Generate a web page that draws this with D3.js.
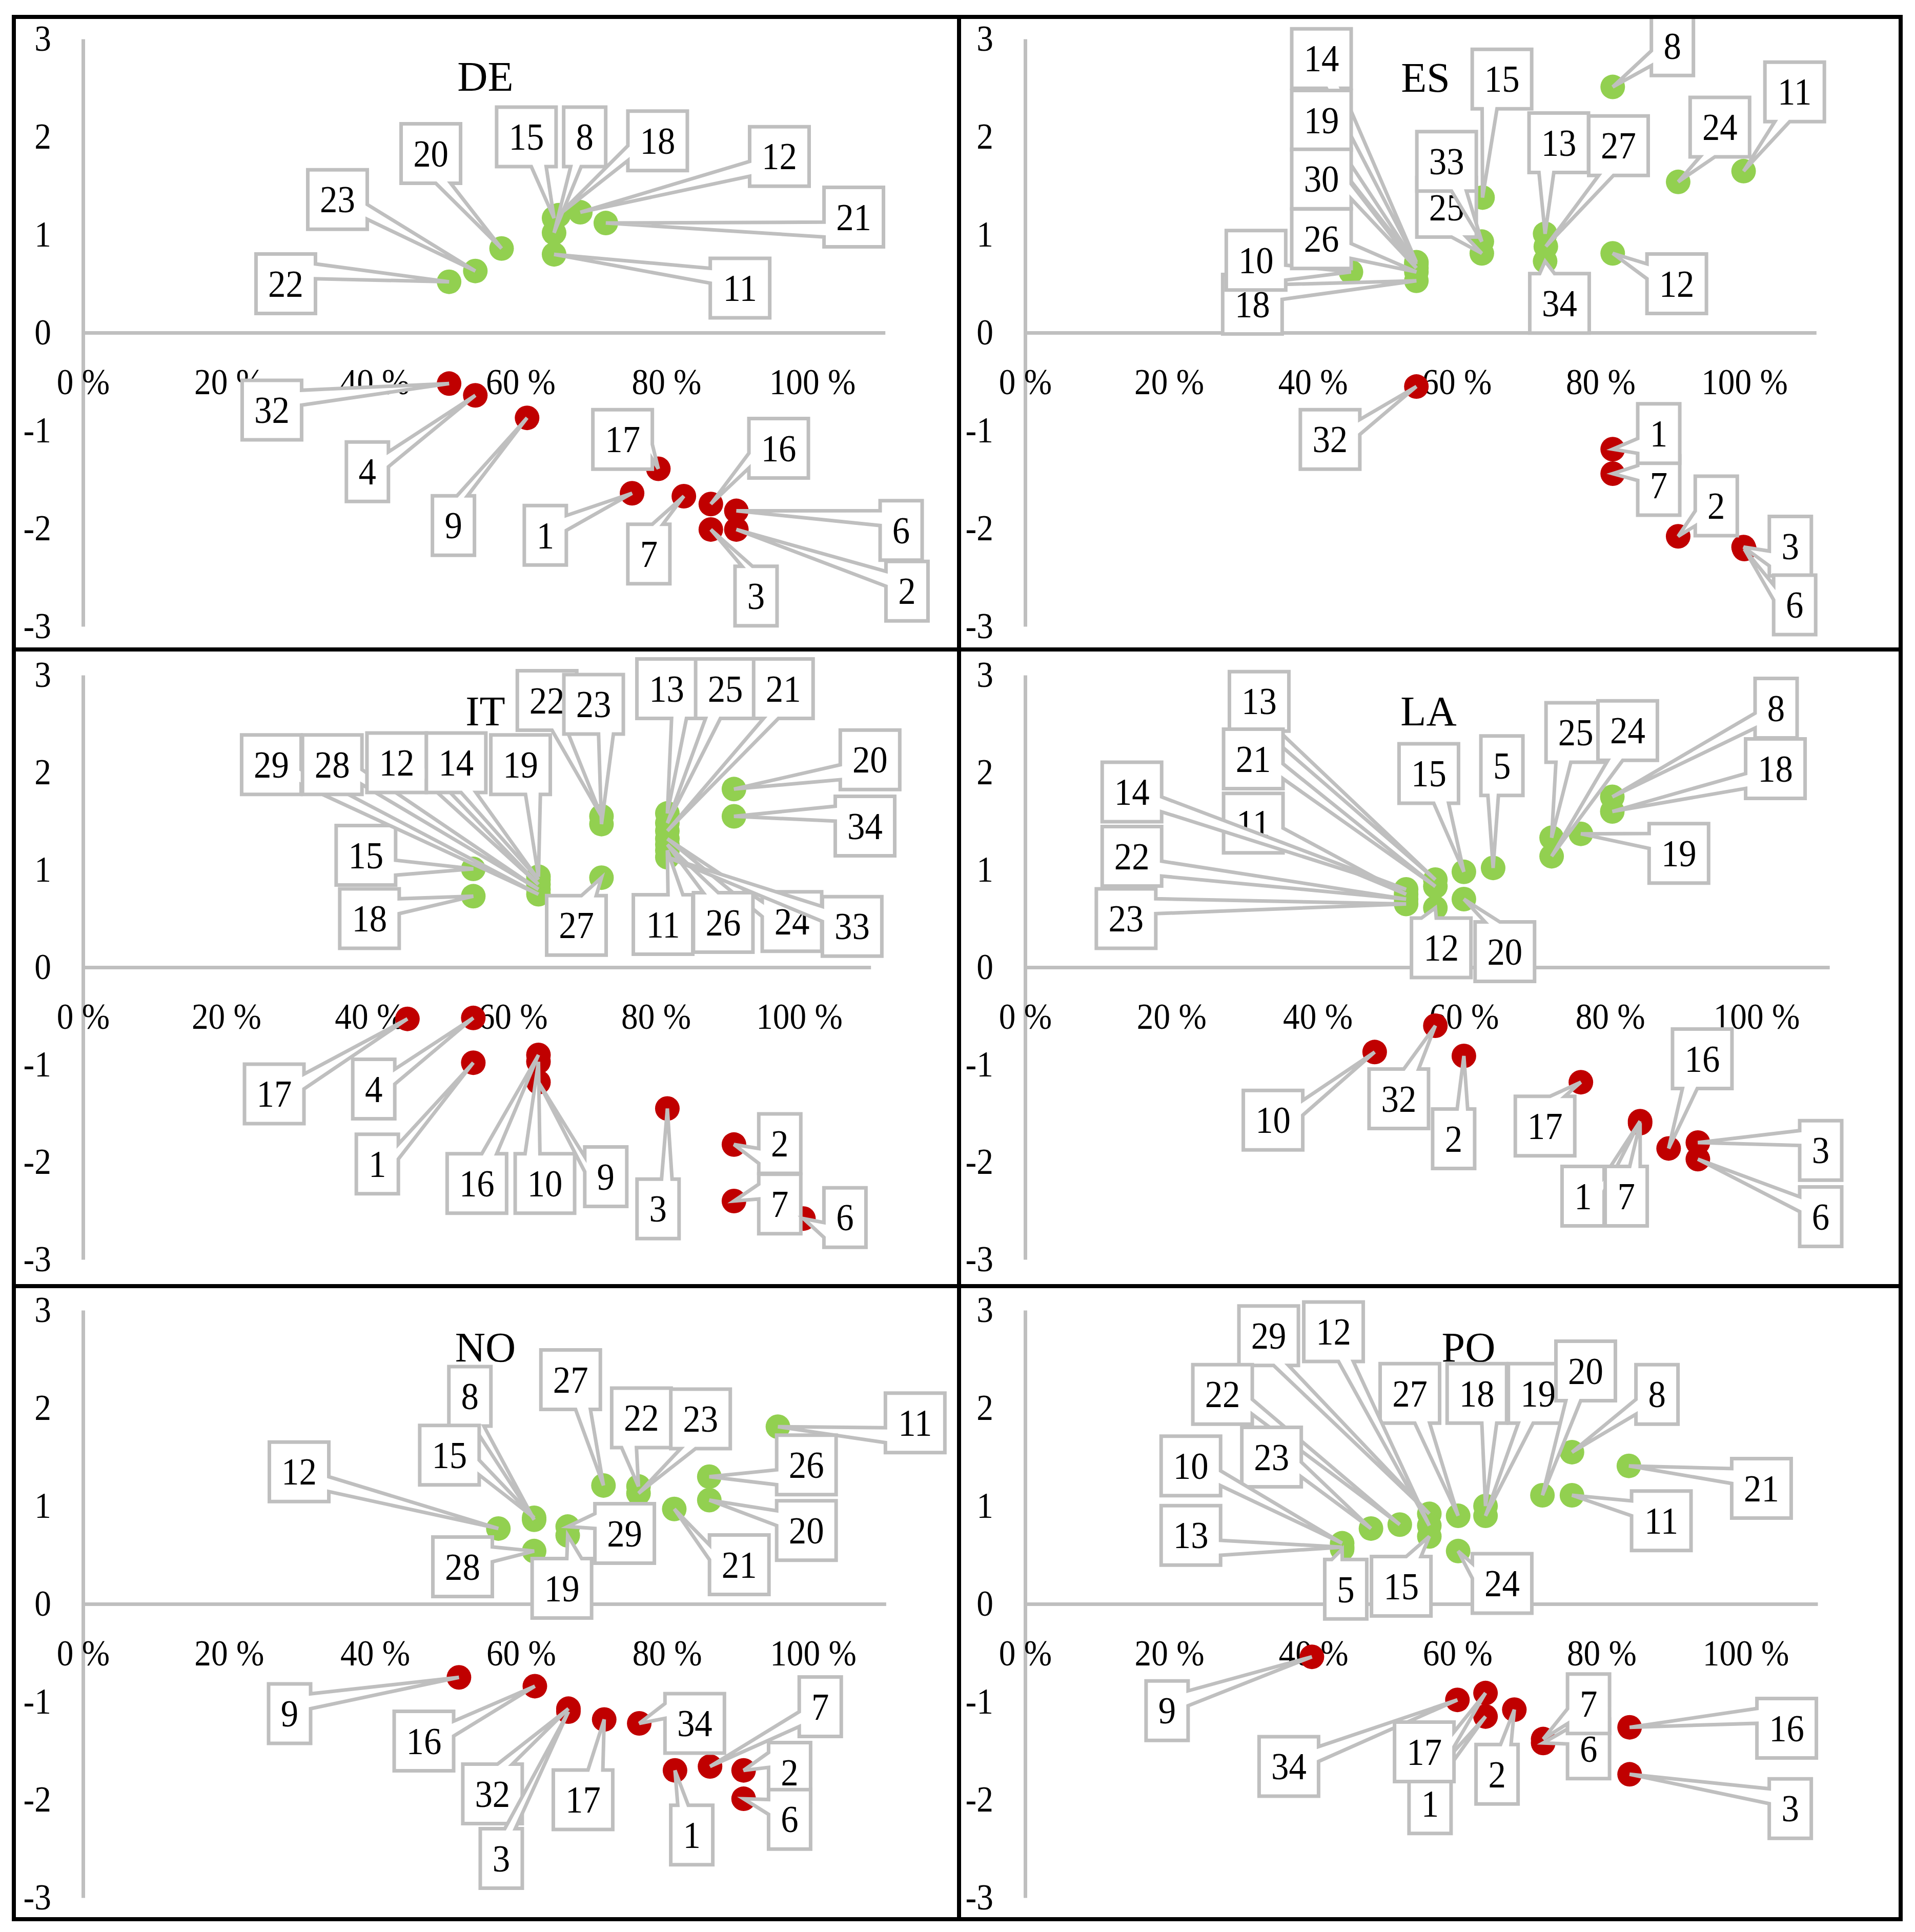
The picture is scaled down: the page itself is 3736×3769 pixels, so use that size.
<!DOCTYPE html>
<html><head><meta charset="utf-8">
<script src="https://cdn.jsdelivr.net/npm/d3@7"></script>
<style>html,body{margin:0;padding:0;background:#fff;} svg{display:block;}</style>
</head><body>
<script>
const panelNames = ["DE","ES","IT","LA","NO","PO"];
const xTickValues = [0,20,40,60,80,100];
const yTickValues = [-3,-2,-1,0,1,2,3];

// DE
const deId     = [22, 23, 20, 15, 8, 18, 12, 21, 11, 32, 4, 9, 17, 1, 7, 16, 6, 3, 2];
const dePct    = [50.2, 53.8, 57.4, 64.6, 64.6, 65.2, 68.2, 71.7, 64.6, 50.2, 53.8, 60.9, 78.9, 75.3, 82.4, 86.1, 89.6, 86.1, 89.6];
const deScore  = [0.52, 0.63, 0.86, 1.17, 1.02, 1.20, 1.23, 1.12, 0.80, -0.52, -0.64, -0.87, -1.39, -1.64, -1.67, -1.75, -1.82, -2.01, -2.01];
const deLabPct = [27.8, 34.9, 47.7, 60.8, 68.8, 78.8, 95.5, 105.7, 90.1, 25.9, 39.0, 50.8, 74.0, 63.4, 77.6, 95.4, 112.2, 92.3, 113.0];
const deLabScore = [0.50, 1.36, 1.83, 2.0, 2.0, 1.96, 1.80, 1.18, 0.455, -0.79, -1.42, -1.97, -1.09, -2.07, -2.26, -1.18, -2.02, -2.69, -2.64];

// ES
const esId     = [8, 11, 24, 25, 33, 15, 13, 27, 34, 12, 18, 10, 14, 19, 30, 26, 32, 7, 1, 2, 3, 6];
const esPct    = [81.7, 99.9, 90.8, 63.5, 63.5, 63.6, 72.3, 72.4, 72.3, 81.7, 54.4, 45.3, 54.4, 54.4, 54.4, 54.4, 54.4, 81.7, 81.7, 90.8, 99.9, 100.0];
const esScore  = [2.51, 1.65, 1.54, 0.81, 0.93, 1.38, 1.01, 0.88, 0.73, 0.81, 0.53, 0.62, 0.72, 0.70, 0.66, 0.62, -0.55, -1.44, -1.19, -2.08, -2.19, -2.21];
const esLabPct = [90.0, 107.0, 96.6, 58.6, 58.6, 66.3, 74.2, 82.5, 74.3, 90.6, 31.6, 32.1, 41.2, 41.2, 41.2, 41.2, 42.4, 88.1, 88.1, 96.1, 106.4, 107.0];
const esLabScore = [2.93, 2.46, 2.10, 1.28, 1.75, 2.59, 1.94, 1.91, 0.30, 0.50, 0.29, 0.74, 2.80, 2.17, 1.57, 0.96, -1.09, -1.56, -1.03, -1.77, -2.18, -2.78];

// IT
const itId     = [20, 34, 22, 23, 13, 25, 21, 24, 26, 11, 33, 27, 15, 18, 29, 28, 12, 14, 19, 17, 4, 1, 16, 10, 9, 3, 2, 7, 6];
const itPct    = [90.9, 90.9, 72.4, 72.4, 81.6, 81.6, 81.6, 81.6, 81.6, 81.6, 81.6, 72.4, 54.5, 54.5, 63.6, 63.6, 63.6, 63.6, 63.6, 45.3, 54.5, 54.5, 63.6, 63.6, 63.6, 81.6, 90.9, 90.9, 100.6];
const itScore  = [1.83, 1.55, 1.55, 1.47, 1.58, 1.48, 1.40, 1.32, 1.26, 1.20, 1.13, 0.92, 1.01, 0.73, 0.75, 0.80, 0.85, 0.90, 0.93, -0.53, -0.52, -0.98, -0.90, -0.97, -1.18, -1.45, -1.82, -2.40, -2.58];
const itLabPct = [109.9, 109.2, 64.8, 71.3, 81.5, 89.7, 97.8, 99.0, 89.4, 81.0, 107.4, 68.9, 39.5, 40.0, 26.3, 34.8, 43.8, 52.1, 61.1, 26.7, 40.6, 41.1, 55.0, 64.5, 73.0, 80.3, 97.3, 97.3, 106.4];
const itLabScore = [2.13, 1.45, 2.74, 2.70, 2.86, 2.86, 2.86, 0.47, 0.46, 0.44, 0.42, 0.43, 1.15, 0.50, 2.08, 2.08, 2.10, 2.10, 2.08, -1.30, -1.25, -2.02, -2.22, -2.22, -2.15, -2.48, -1.81, -2.43, -2.57];

// LA
const laId     = [8, 18, 19, 25, 24, 5, 15, 20, 12, 13, 21, 11, 14, 22, 23, 32, 10, 2, 17, 1, 7, 16, 3, 6];
const laPct    = [80.3, 80.3, 76.0, 72.0, 72.0, 64.0, 60.0, 60.0, 56.1, 56.1, 56.1, 52.1, 52.1, 52.1, 52.1, 56.1, 47.8, 60.0, 76.0, 84.1, 84.1, 88.0, 92.0, 92.0];
const laScore  = [1.75, 1.60, 1.37, 1.33, 1.14, 1.02, 0.98, 0.70, 0.61, 0.90, 0.83, 0.75, 0.80, 0.70, 0.65, -0.60, -0.87, -0.91, -1.18, -1.58, -1.60, -1.86, -1.80, -1.97];
const laLabPct = [102.7, 102.6, 89.4, 75.3, 82.4, 65.2, 55.2, 65.6, 56.9, 32.0, 31.2, 31.2, 14.6, 14.6, 13.8, 51.1, 33.9, 58.6, 71.1, 76.3, 82.2, 92.6, 108.8, 108.8];
const laLabScore = [2.66, 2.04, 1.17, 2.41, 2.43, 2.07, 1.99, 0.16, 0.20, 2.73, 2.14, 1.48, 1.80, 1.14, 0.50, -1.35, -1.57, -1.76, -1.63, -2.35, -2.35, -0.94, -1.88, -2.56];

// NO
const noId     = [11, 26, 20, 21, 22, 23, 27, 29, 19, 8, 15, 28, 12, 9, 16, 32, 3, 17, 34, 7, 1, 2, 6];
const noPct    = [95.2, 85.8, 85.8, 81.0, 76.1, 76.1, 71.3, 66.4, 66.4, 61.8, 61.8, 61.8, 56.9, 51.5, 61.9, 66.5, 66.5, 71.4, 76.2, 85.9, 81.1, 90.5, 90.5];
const noScore  = [1.81, 1.30, 1.06, 0.97, 1.20, 1.13, 1.21, 0.79, 0.70, 0.86, 0.88, 0.54, 0.77, -0.75, -0.84, -1.07, -1.10, -1.18, -1.22, -1.66, -1.70, -1.70, -1.99];
const noLabPct = [114.0, 99.1, 99.1, 89.9, 76.5, 84.6, 66.8, 74.2, 65.6, 53.0, 50.2, 52.0, 29.6, 28.3, 46.7, 56.1, 57.3, 68.5, 83.8, 101.0, 83.4, 96.8, 96.8];
const noLabScore = [1.85, 1.42, 0.75, 0.40, 1.90, 1.89, 2.29, 0.72, 0.16, 2.12, 1.52, 0.38, 1.35, -1.12, -1.40, -1.94, -2.60, -2.00, -1.22, -1.05, -2.36, -1.72, -2.20];

// PO
const poId     = [8, 21, 19, 20, 11, 18, 27, 24, 29, 12, 15, 22, 23, 10, 13, 5, 9, 34, 1, 17, 2, 6, 7, 16, 3];
const poPct    = [75.9, 83.8, 63.9, 71.8, 75.9, 63.9, 60.1, 60.1, 56.1, 56.1, 56.1, 52.0, 48.0, 44.0, 44.0, 44.0, 39.8, 60.0, 63.9, 63.9, 67.9, 71.9, 71.9, 83.9, 83.9];
const poScore  = [1.55, 1.41, 0.90, 1.11, 1.11, 1.00, 0.90, 0.54, 0.92, 0.80, 0.69, 0.81, 0.77, 0.62, 0.58, 0.56, -0.54, -0.98, -1.15, -0.91, -1.08, -1.42, -1.38, -1.26, -1.74];
const poLabPct = [87.7, 102.2, 71.2, 77.8, 88.3, 62.7, 53.4, 66.2, 33.8, 42.8, 52.2, 27.4, 34.2, 23.0, 23.0, 44.5, 19.7, 36.6, 56.2, 55.4, 65.5, 78.2, 78.2, 105.7, 106.2];
const poLabScore = [2.14, 1.18, 2.15, 2.38, 0.85, 2.15, 2.15, 0.21, 2.74, 2.78, 0.18, 2.14, 1.50, 1.41, 0.70, 0.15, -1.09, -1.66, -2.04, -1.51, -1.74, -1.48, -1.02, -1.27, -2.09];

const panelData = {
  DE: {id: deId, pct: dePct, score: deScore, labPct: deLabPct, labScore: deLabScore},
  ES: {id: esId, pct: esPct, score: esScore, labPct: esLabPct, labScore: esLabScore},
  IT: {id: itId, pct: itPct, score: itScore, labPct: itLabPct, labScore: itLabScore},
  LA: {id: laId, pct: laPct, score: laScore, labPct: laLabPct, labScore: laLabScore},
  NO: {id: noId, pct: noPct, score: noScore, labPct: noLabPct, labScore: noLabScore},
  PO: {id: poId, pct: poPct, score: poScore, labPct: poLabPct, labScore: poLabScore}
};

// geometry (pixels)
const layout = {
  DE: {x0:27,   y0:33,   x1:1871, y1:1267, ax:162,  zero:649,  unit:191, per20:284.5, titleX:947,  titleY:148},
  ES: {x0:1871, y0:33,   x1:3708, y1:1267, ax:2000, zero:649,  unit:191, per20:280.6, titleX:2781, titleY:150},
  IT: {x0:27,   y0:1267, x1:1871, y1:2509, ax:162,  zero:1887, unit:190, per20:279.4, titleX:947,  titleY:1386},
  LA: {x0:1871, y0:1267, x1:3708, y1:2509, ax:2000, zero:1887, unit:190, per20:285.3, titleX:2787, titleY:1386},
  NO: {x0:27,   y0:2509, x1:1871, y1:3744, ax:162,  zero:3129, unit:191, per20:284.8, titleX:947,  titleY:2627},
  PO: {x0:1871, y0:2509, x1:3708, y1:3744, ax:2000, zero:3129, unit:191, per20:281.1, titleX:2865, titleY:2627}
};

const W = 3736, H = 3769;
const FONT = "'Liberation Serif','Times New Roman',serif";
const GRAY = "#bfbfbf";
const GREEN = "#92d050", RED = "#c00000";
const TICK_SX = 0.92;

const svg = d3.select("body").append("svg").attr("width", W).attr("height", H);
svg.append("rect").attr("width", W).attr("height", H).attr("fill", "#fff");
const defs = svg.append("defs");

function callout(cx, cy, w, h, tx, ty) {
  const l = cx - w/2, r = cx + w/2, t = cy - h/2, b = cy + h/2;
  const dx = tx - cx, dy = ty - cy;
  if (tx >= l && tx <= r && ty >= t && ty <= b) {
    return `M${l},${t}H${r}V${b}H${l}Z`;
  }
  if (Math.abs(dx) * h > Math.abs(dy) * w) {
    const y1 = t + h * (dy > 0 ? 7 : 2) / 12, y2 = t + h * (dy > 0 ? 10 : 5) / 12;
    if (dx > 0) return `M${l},${t}H${r}V${y1}L${tx},${ty}L${r},${y2}V${b}H${l}Z`;
    return `M${l},${t}H${r}V${b}H${l}V${y2}L${tx},${ty}L${l},${y1}Z`;
  } else {
    const x1 = l + w * (dx > 0 ? 7 : 2) / 12, x2 = l + w * (dx > 0 ? 10 : 5) / 12;
    if (dy > 0) return `M${l},${t}H${r}V${b}H${x2}L${tx},${ty}L${x1},${b}H${l}Z`;
    return `M${l},${t}H${x1}L${tx},${ty}L${x2},${t}H${r}V${b}H${l}Z`;
  }
}

panelNames.forEach(name => {
  const L = layout[name], D = panelData[name];
  const clipId = "clip-" + name;
  defs.append("clipPath").attr("id", clipId).append("rect")
    .attr("x", L.x0).attr("y", L.y0).attr("width", L.x1 - L.x0).attr("height", L.y1 - L.y0);
  const g = svg.append("g").attr("clip-path", `url(#${clipId})`);

  const x = d3.scaleLinear().domain([0, 110]).range([L.ax, L.ax + 5.5 * L.per20]);
  const y = d3.scaleLinear().domain([-3, 3]).range([L.zero + 3 * L.unit, L.zero - 3 * L.unit]);

  const ya = g.append("g").attr("transform", `translate(${L.ax},0)`)
    .call(d3.axisLeft(y).tickValues(yTickValues).tickSize(0).tickSizeOuter(0).tickPadding(62).tickFormat(d => String(d)));
  const xa = g.append("g").attr("transform", `translate(0,${L.zero})`)
    .call(d3.axisBottom(x).tickValues(xTickValues).tickSize(0).tickSizeOuter(0).tickPadding(70).tickFormat(d => d + " %"));
  [xa, ya].forEach(a => {
    a.select(".domain").attr("stroke", GRAY).attr("stroke-width", 7);
    a.selectAll("text").attr("font-family", FONT).attr("font-size", 71).attr("fill", "#000");
  });
  xa.selectAll("text").attr("transform", `scale(${TICK_SX},1)`);
  ya.selectAll("text").attr("x", -62 / TICK_SX).attr("transform", `scale(${TICK_SX},1)`);

  g.append("text").attr("x", L.titleX).attr("y", L.titleY).attr("dy", "0.35em")
    .attr("text-anchor", "middle").attr("font-family", FONT).attr("font-size", 82).attr("fill", "#000").text(name);

  const pts = D.id.map((id, i) => ({id, pct: D.pct[i], score: D.score[i], lp: D.labPct[i], ls: D.labScore[i]}));

  g.append("g").selectAll("circle").data(pts).join("circle")
    .attr("cx", d => x(d.pct)).attr("cy", d => y(d.score)).attr("r", 24)
    .attr("fill", d => d.score >= 0 ? GREEN : RED);

  const lab = g.append("g").selectAll("g").data(pts).join("g");
  lab.append("path")
    .attr("d", d => {
      const w = d.id >= 10 ? 116 : 82, h = 116;
      return callout(x(d.lp), y(d.ls), w, h, x(d.pct), y(d.score));
    })
    .attr("fill", "#fff").attr("stroke", GRAY).attr("stroke-width", 7).attr("stroke-linejoin", "miter");
  lab.append("text")
    .attr("transform", d => `translate(${x(d.lp)},${y(d.ls)}) scale(0.93,1)`)
    .attr("dy", "0.34em").attr("text-anchor", "middle")
    .attr("font-family", FONT).attr("font-size", 74).attr("fill", "#000")
    .text(d => d.id);

  svg.append("rect").attr("x", L.x0).attr("y", L.y0).attr("width", L.x1 - L.x0).attr("height", L.y1 - L.y0)
    .attr("fill", "none").attr("stroke", "#000").attr("stroke-width", 8);
});
</script>
</body></html>
